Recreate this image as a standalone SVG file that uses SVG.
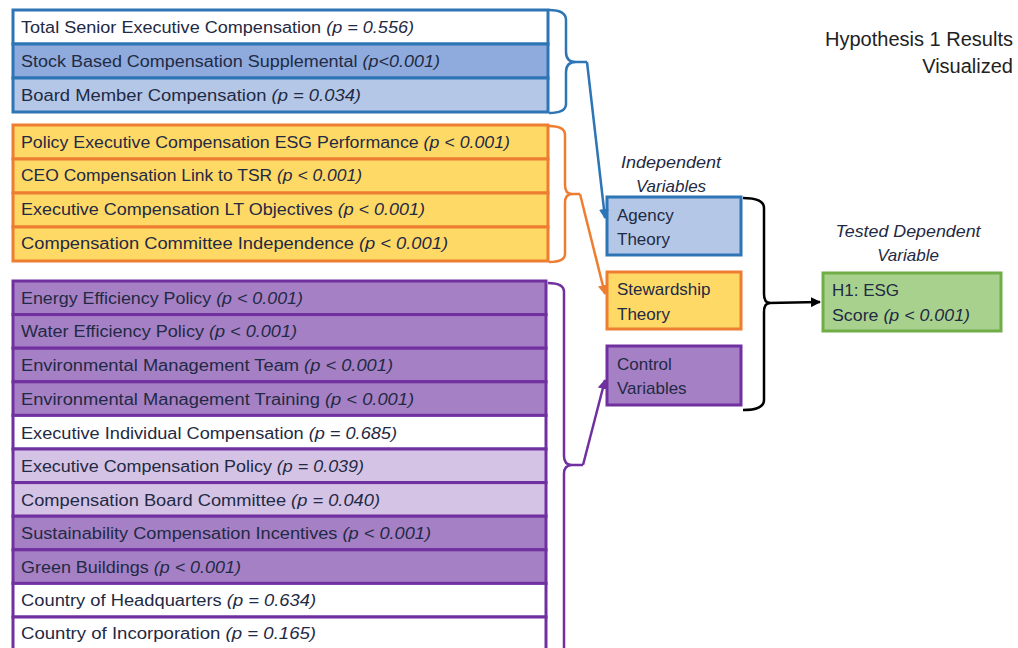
<svg xmlns="http://www.w3.org/2000/svg" width="1018" height="648" viewBox="0 0 1018 648">
<defs>
<style>
text{font-family:"Liberation Sans",Arial,sans-serif;fill:#1F2A44;}
.r{font-size:16px;}
.i{font-style:italic;}
.b{stroke:#2E75B6;stroke-width:3;}
.o{stroke:#ED7D31;stroke-width:3;}
.p{stroke:#7030A0;stroke-width:3;}
.bw{fill:#FFFFFF}.bm{fill:#8FAADC}.bl{fill:#B4C7E7}
.of{fill:#FFD966}
.pd{fill:#A680C4}.pl{fill:#D5C3E5}.pw{fill:#FFFFFF}
.con{fill:none;stroke-width:2.5;stroke-linejoin:round}
.big{font-size:17px;}
.t{font-size:20px;fill:#222;}
</style>
<marker id="ab" viewBox="0 0 10 10" refX="9" refY="5" markerWidth="4" markerHeight="4" orient="auto"><path d="M0,0L10,5L0,10z" fill="#2E75B6"/></marker>
<marker id="ao" viewBox="0 0 10 10" refX="9" refY="5" markerWidth="4" markerHeight="4" orient="auto"><path d="M0,0L10,5L0,10z" fill="#ED7D31"/></marker>
<marker id="ap" viewBox="0 0 10 10" refX="9" refY="5" markerWidth="4" markerHeight="4" orient="auto"><path d="M0,0L10,5L0,10z" fill="#7030A0"/></marker>
<marker id="ak" viewBox="0 0 10 10" refX="9" refY="5" markerWidth="4" markerHeight="4" orient="auto"><path d="M0,0L10,5L0,10z" fill="#000"/></marker>
</defs>
<rect width="1018" height="648" fill="#FFFFFF"/>

<g id="title">
<text class="t" x="1013" y="46" text-anchor="end" textLength="188" lengthAdjust="spacingAndGlyphs">Hypothesis 1 Results</text>
<text class="t" x="1013" y="73" text-anchor="end">Visualized</text>
</g>

<g id="agency-items">
<rect class="b bw" x="13" y="10" width="535" height="34"/>
<rect class="b bm" x="13" y="44" width="535" height="34"/>
<rect class="b bl" x="13" y="78" width="535" height="34"/>
<text class="r" x="21" y="33" textLength="393" lengthAdjust="spacingAndGlyphs">Total Senior Executive Compensation <tspan class="i">(p = 0.556)</tspan></text>
<text class="r" x="21" y="67" textLength="419" lengthAdjust="spacingAndGlyphs">Stock Based Compensation Supplemental <tspan class="i">(p&lt;0.001)</tspan></text>
<text class="r" x="21" y="101" textLength="340" lengthAdjust="spacingAndGlyphs">Board Member Compensation <tspan class="i">(p = 0.034)</tspan></text>
</g>

<g id="stewardship-items">
<rect class="o of" x="13" y="125" width="535" height="34"/>
<rect class="o of" x="13" y="159" width="535" height="34"/>
<rect class="o of" x="13" y="193" width="535" height="34"/>
<rect class="o of" x="13" y="227" width="535" height="34"/>
<text class="r" x="21" y="148" textLength="489" lengthAdjust="spacingAndGlyphs">Policy Executive Compensation ESG Performance <tspan class="i">(p &lt; 0.001)</tspan></text>
<text class="r" x="21" y="181" textLength="341" lengthAdjust="spacingAndGlyphs">CEO Compensation Link to TSR <tspan class="i">(p &lt; 0.001)</tspan></text>
<text class="r" x="21" y="215" textLength="404" lengthAdjust="spacingAndGlyphs">Executive Compensation LT Objectives <tspan class="i">(p &lt; 0.001)</tspan></text>
<text class="r" x="21" y="249" textLength="427" lengthAdjust="spacingAndGlyphs">Compensation Committee Independence <tspan class="i">(p &lt; 0.001)</tspan></text>
</g>

<g id="control-items">
<rect class="p pd" x="13" y="281" width="533" height="33.6"/>
<rect class="p pd" x="13" y="314.6" width="533" height="33.6"/>
<rect class="p pd" x="13" y="348.2" width="533" height="33.6"/>
<rect class="p pd" x="13" y="381.8" width="533" height="33.6"/>
<rect class="p pw" x="13" y="415.4" width="533" height="33.6"/>
<rect class="p pl" x="13" y="449" width="533" height="33.6"/>
<rect class="p pl" x="13" y="482.6" width="533" height="33.6"/>
<rect class="p pd" x="13" y="516.2" width="533" height="33.6"/>
<rect class="p pd" x="13" y="549.8" width="533" height="33.6"/>
<rect class="p pw" x="13" y="583.4" width="533" height="33.6"/>
<rect class="p pw" x="13" y="617" width="533" height="33.6"/>
<text class="r" x="21" y="304" textLength="282" lengthAdjust="spacingAndGlyphs">Energy Efficiency Policy <tspan class="i">(p &lt; 0.001)</tspan></text>
<text class="r" x="21" y="337" textLength="276" lengthAdjust="spacingAndGlyphs">Water Efficiency Policy <tspan class="i">(p &lt; 0.001)</tspan></text>
<text class="r" x="21" y="371" textLength="372" lengthAdjust="spacingAndGlyphs">Environmental Management Team <tspan class="i">(p &lt; 0.001)</tspan></text>
<text class="r" x="21" y="405" textLength="393" lengthAdjust="spacingAndGlyphs">Environmental Management Training <tspan class="i">(p &lt; 0.001)</tspan></text>
<text class="r" x="21" y="439" textLength="376" lengthAdjust="spacingAndGlyphs">Executive Individual Compensation <tspan class="i">(p = 0.685)</tspan></text>
<text class="r" x="21" y="472" textLength="343" lengthAdjust="spacingAndGlyphs">Executive Compensation Policy <tspan class="i">(p = 0.039)</tspan></text>
<text class="r" x="21" y="506" textLength="359" lengthAdjust="spacingAndGlyphs">Compensation Board Committee <tspan class="i">(p = 0.040)</tspan></text>
<text class="r" x="21" y="539" textLength="410" lengthAdjust="spacingAndGlyphs">Sustainability Compensation Incentives <tspan class="i">(p &lt; 0.001)</tspan></text>
<text class="r" x="21" y="573" textLength="220" lengthAdjust="spacingAndGlyphs">Green Buildings <tspan class="i">(p &lt; 0.001)</tspan></text>
<text class="r" x="21" y="606" textLength="295" lengthAdjust="spacingAndGlyphs">Country of Headquarters <tspan class="i">(p = 0.634)</tspan></text>
<text class="r" x="21" y="639" textLength="295" lengthAdjust="spacingAndGlyphs">Country of Incorporation <tspan class="i">(p = 0.165)</tspan></text>
</g>

<g id="labels">
<text class="big i" x="671" y="168" text-anchor="middle" textLength="100" lengthAdjust="spacingAndGlyphs">Independent</text>
<text class="big i" x="671" y="192" text-anchor="middle">Variables</text>
<text class="big i" x="908" y="237" text-anchor="middle" textLength="145" lengthAdjust="spacingAndGlyphs">Tested Dependent</text>
<text class="big i" x="908" y="261" text-anchor="middle">Variable</text>
</g>

<g id="agency">
<rect x="607" y="197" width="134" height="58" fill="#B4C7E7" stroke="#2E75B6" stroke-width="3"/>
<text class="big" x="617" y="221">Agency</text>
<text class="big" x="617" y="245">Theory</text>
</g>
<g id="stewardship">
<rect x="607" y="272" width="134" height="57" fill="#FFD966" stroke="#ED7D31" stroke-width="3"/>
<text class="big" x="617" y="295">Stewardship</text>
<text class="big" x="617" y="320">Theory</text>
</g>
<g id="control">
<rect x="607" y="346" width="134" height="59" fill="#A680C4" stroke="#7030A0" stroke-width="3"/>
<text class="big" x="617" y="370">Control</text>
<text class="big" x="617" y="394">Variables</text>
</g>
<g id="esg">
<rect x="823" y="273" width="178" height="58" fill="#A9D18E" stroke="#70AD47" stroke-width="3"/>
<text class="big" x="832" y="296">H1: ESG</text>
<text class="big" x="832" y="321" textLength="138" lengthAdjust="spacingAndGlyphs">Score <tspan class="i">(p &lt; 0.001)</tspan></text>
</g>

<g id="connectors">
<path class="con" stroke="#2E75B6" d="M549,10 Q566,10 566,20 L566,52 Q566,62 576,62 L587,62 M576,62 Q566,62 566,72 L566,104 Q566,113 549,113"/>
<path class="con" stroke="#2E75B6" d="M587,62 L605,218" marker-end="url(#ab)"/>
<path class="con" stroke="#ED7D31" d="M549,126 Q565,126 565,135 L565,185 Q565,194 572,194 L580,194 M572,194 Q565,194 565,203 L565,254 Q565,262 549,262"/>
<path class="con" stroke="#ED7D31" d="M580,194 L605,294" marker-end="url(#ao)"/>
<path class="con" stroke="#7030A0" d="M548,283 Q564,283 564,292 L564,456 Q564,465 572,465 L583,465 M572,465 Q564,465 564,474 L564,660"/>
<path class="con" stroke="#7030A0" d="M583,465 L605,380" marker-end="url(#ap)"/>
<path class="con" stroke="#000" d="M743,198 Q764,198 764,208 L764,294 Q764,303 770,303 M770,303 Q764,303 764,312 L764,400 Q764,410 743,410"/>
<path class="con" stroke="#000" d="M768,303 L820,302" marker-end="url(#ak)"/>
</g>
</svg>
